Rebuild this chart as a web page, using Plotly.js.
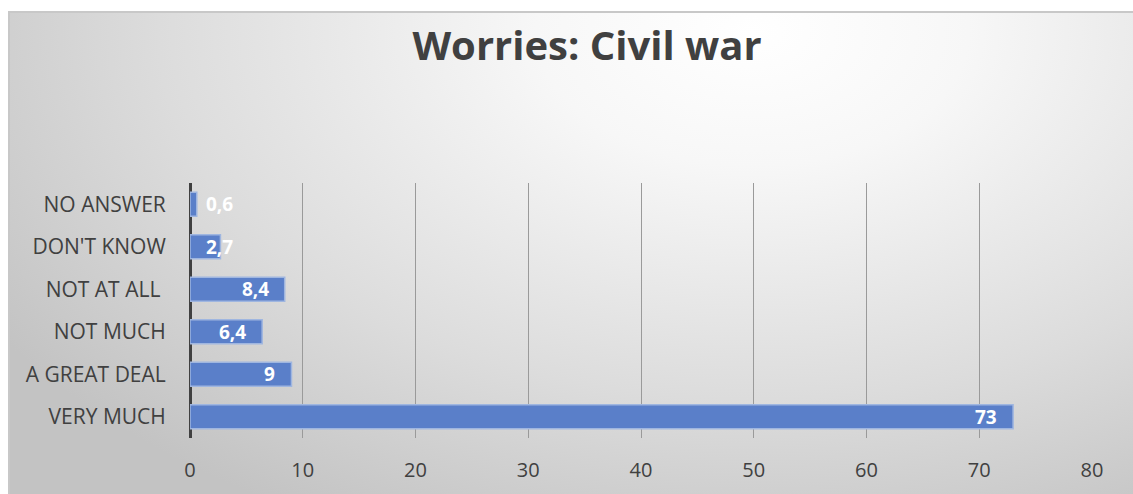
<!DOCTYPE html>
<html>
<head>
<meta charset="utf-8">
<script src="https://cdn.plot.ly/plotly-3.0.1.min.js"></script>
<style>
  html, body { margin: 0; padding: 0; background: #ffffff; }
  #frame {
    position: absolute; left: 8px; top: 11px; width: 1125px; height: 483px;
    border-top: 2px solid #c8c8c8; border-left: 2px solid #c8c8c8;
    background: radial-gradient(ellipse 80% 115% at 66% 4%, #ffffff 0%, #f7f7f7 24%, #dcdcdc 66%, #c3c3c3 100%);
  }
  #chart { position: absolute; left: 0; top: 0; width: 1133px; height: 494px; }
</style>
</head>
<body>
<div id="frame"></div>
<div id="chart"></div>
<script>
const categories = ["VERY MUCH", "A GREAT DEAL", "NOT MUCH", "NOT AT ALL ", "DON'T KNOW", "NO ANSWER"];
const values = [73, 9, 6.4, 8.4, 2.7, 0.6];
const valueLabels = values.map(v => String(v).replace('.', ','));
const xTicks = [0, 10, 20, 30, 40, 50, 60, 70, 80];

const font = "'Open Sans', 'Liberation Sans', sans-serif";
const labelFont = { family: font, size: 19, color: '#ffffff', weight: 'bold' };

const trace = {
  type: 'bar',
  orientation: 'h',
  y: categories,
  x: values,
  marker: { color: '#5a7fc9', line: { color: '#9fb6e0', width: 1.5 } },
  hoverinfo: 'none'
};

// Excel-style "inside end" labels: right-aligned inside the bar end,
// but clamped to start just after the axis when the bar is too short.
const SHORT_BAR = 5;
const annotations = values.map((v, i) => {
  const short = v < SHORT_BAR;
  return {
    x: short ? 0 : v, y: categories[i], xref: 'x', yref: 'y',
    text: valueLabels[i], showarrow: false,
    xanchor: short ? 'left' : 'right', yanchor: 'middle',
    xshift: short ? 14 : -14,
    font: labelFont
  };
});

const layout = {
  width: 1133, height: 494,
  margin: { l: 190, r: 41, t: 183, b: 56, pad: 0 },
  paper_bgcolor: 'rgba(0,0,0,0)',
  plot_bgcolor: 'rgba(0,0,0,0)',
  bargap: 0.44,
  showlegend: false,
  annotations: annotations,
  title: {
    text: 'Worries: Civil war',
    font: { family: font, size: 40, color: '#404040', weight: 'bold' },
    x: 587 / 1133, xref: 'container', xanchor: 'center',
    y: 1 - 46 / 494, yref: 'container', yanchor: 'middle'
  },
  xaxis: {
    range: [0, 80],
    tickvals: xTicks,
    ticktext: xTicks.map(String),
    showgrid: true, gridcolor: '#9a9a9a', gridwidth: 1,
    zeroline: true, zerolinecolor: '#404040', zerolinewidth: 3,
    showline: false,
    ticks: 'outside', ticklen: 14, tickcolor: 'rgba(0,0,0,0)',
    tickfont: { family: font, size: 20, color: '#404040' },
    fixedrange: true
  },
  yaxis: {
    showgrid: false, zeroline: false, showline: false,
    ticks: 'outside', ticklen: 19, tickcolor: 'rgba(0,0,0,0)',
    tickfont: { family: font, size: 21, color: '#404040' },
    fixedrange: true
  }
};

Plotly.newPlot('chart', [trace], layout, { displayModeBar: false, staticPlot: true });
</script>
</body>
</html>
